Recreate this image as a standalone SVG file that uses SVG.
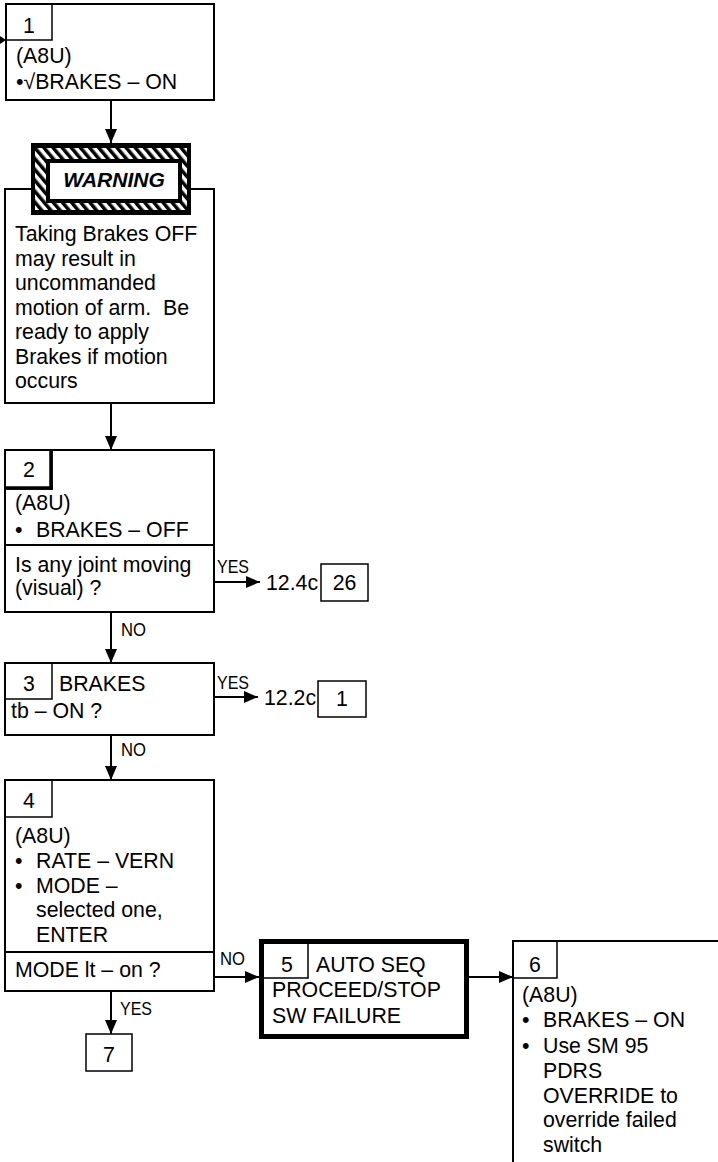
<svg xmlns="http://www.w3.org/2000/svg" width="718" height="1162" viewBox="0 0 718 1162">
<style>
  text { font-family: "Liberation Sans", Arial, sans-serif; font-size: 21.3px; fill: #000; }
  .lbl { font-size: 18px; }
  .ctr { text-anchor: middle; }
  .warn { font-weight: bold; font-style: italic; font-size: 21px; }
  .box { fill: #fff; stroke: #000; stroke-width: 2; }
  .tab { fill: none; stroke: #000; stroke-width: 1.5; }
  .thick { fill: #fff; stroke: #000; stroke-width: 5; }
  .conn { fill: none; stroke: #000; stroke-width: 2; }
  .ln { stroke: #000; stroke-width: 2; fill: none; }
</style>
<defs>
  <marker id="arr" markerUnits="userSpaceOnUse" markerWidth="14" markerHeight="12" refX="14" refY="6" orient="auto">
    <path d="M0,0 L14,6 L0,12 Z" fill="#000"/>
  </marker>
  <pattern id="hatch" patternUnits="userSpaceOnUse" width="7" height="7" patternTransform="rotate(-40)">
    <rect width="7" height="7" fill="#fff"/>
    <rect width="3.5" height="7" fill="#000"/>
  </pattern>
</defs>
<rect width="718" height="1162" fill="#fff"/>

<g id="connectors">
  <line class="conn" x1="0" y1="40" x2="2" y2="40"/>
  <path d="M0,36 L6,40 L0,44 Z" fill="#000"/>
  <line class="conn" x1="111" y1="100" x2="111" y2="143" marker-end="url(#arr)"/>
  <line class="conn" x1="111" y1="403" x2="111" y2="450" marker-end="url(#arr)"/>
  <line class="conn" x1="214" y1="582" x2="260" y2="582" marker-end="url(#arr)"/>
  <line class="conn" x1="111" y1="612" x2="111" y2="663" marker-end="url(#arr)"/>
  <line class="conn" x1="214" y1="697" x2="258" y2="697" marker-end="url(#arr)"/>
  <line class="conn" x1="111" y1="735" x2="111" y2="780" marker-end="url(#arr)"/>
  <line class="conn" x1="214" y1="977" x2="259" y2="977" marker-end="url(#arr)"/>
  <line class="conn" x1="111" y1="991" x2="111" y2="1034" marker-end="url(#arr)"/>
  <line class="conn" x1="469" y1="977" x2="513" y2="977" marker-end="url(#arr)"/>
  <text class="lbl" x="217" y="573" textLength="32" lengthAdjust="spacingAndGlyphs">YES</text>
  <text class="lbl" x="121" y="636" textLength="25" lengthAdjust="spacingAndGlyphs">NO</text>
  <text class="lbl" x="217" y="689" textLength="32" lengthAdjust="spacingAndGlyphs">YES</text>
  <text class="lbl" x="121" y="756" textLength="25" lengthAdjust="spacingAndGlyphs">NO</text>
  <text class="lbl" x="220" y="965" textLength="25" lengthAdjust="spacingAndGlyphs">NO</text>
  <text class="lbl" x="120" y="1015" textLength="32" lengthAdjust="spacingAndGlyphs">YES</text>
</g>

<g id="node1">
  <rect class="box" x="6" y="4" width="208" height="96"/>
  <rect class="tab" x="6" y="4" width="46" height="36"/>
  <text class="ctr" x="29" y="33">1</text>
  <text x="16" y="63">(A8U)</text>
  <text x="16" y="89">•√BRAKES – ON</text>
</g>

<g id="warning">
  <rect class="box" x="5" y="189" width="209" height="214"/>
  <rect x="31" y="143" width="160" height="72" fill="#000"/>
  <rect x="35" y="148" width="152" height="62" fill="url(#hatch)"/>
  <rect x="46" y="159" width="136" height="44" fill="#000"/>
  <rect x="50" y="163" width="128" height="36" fill="#fff"/>
  <text class="warn ctr" x="114" y="187">WARNING</text>
  <text x="15" y="241">Taking Brakes OFF</text>
  <text x="15" y="265.5">may result in</text>
  <text x="15" y="290">uncommanded</text>
  <text x="15" y="314.5" xml:space="preserve">motion of arm.  Be</text>
  <text x="15" y="339">ready to apply</text>
  <text x="15" y="363.5">Brakes if motion</text>
  <text x="15" y="388">occurs</text>
</g>

<g id="node2">
  <rect class="box" x="5" y="450" width="209" height="162"/>
  <rect class="tab" x="5" y="450" width="47" height="39"/>
  <line x1="51" y1="450" x2="51" y2="490" stroke="#000" stroke-width="3.5"/>
  <line x1="5" y1="488" x2="52.75" y2="488" stroke="#000" stroke-width="3.5"/>
  <text class="ctr" x="29" y="477">2</text>
  <text x="15" y="510">(A8U)</text>
  <text x="15" y="537">•</text>
  <text x="36" y="537">BRAKES – OFF</text>
  <line class="ln" x1="5" y1="545" x2="214" y2="545"/>
  <text x="15" y="572">Is any joint moving</text>
  <text x="15" y="595">(visual) ?</text>
</g>

<g id="ref26">
  <text x="266" y="590">12.4c</text>
  <rect class="tab" x="321" y="564" width="47" height="37"/>
  <text class="ctr" x="344.5" y="590">26</text>
</g>

<g id="node3">
  <rect class="box" x="5" y="663" width="209" height="72"/>
  <rect class="tab" x="5" y="663" width="47" height="36"/>
  <text class="ctr" x="29" y="691">3</text>
  <text x="59" y="691">BRAKES</text>
  <text x="11" y="718">tb – ON ?</text>
</g>

<g id="ref1">
  <text x="264" y="705">12.2c</text>
  <rect class="tab" x="318" y="681" width="48" height="36"/>
  <text class="ctr" x="342" y="706">1</text>
</g>

<g id="node4">
  <rect class="box" x="5" y="780" width="209" height="211"/>
  <rect class="tab" x="5" y="780" width="47" height="37"/>
  <text class="ctr" x="29" y="808">4</text>
  <text x="15" y="843">(A8U)</text>
  <text x="15" y="868">•</text>
  <text x="36" y="868">RATE – VERN</text>
  <text x="15" y="893">•</text>
  <text x="36" y="893">MODE –</text>
  <text x="36" y="917">selected one,</text>
  <text x="36" y="942">ENTER</text>
  <line class="ln" x1="5" y1="952" x2="214" y2="952"/>
  <text x="15" y="977">MODE lt – on ?</text>
</g>

<g id="node7">
  <rect class="tab" x="86" y="1034" width="46" height="37"/>
  <text class="ctr" x="109" y="1062">7</text>
</g>

<g id="node5">
  <rect class="thick" x="261.5" y="941.5" width="205" height="95"/>
  <path class="tab" d="M308,944 V978 H264"/>
  <text class="ctr" x="287" y="972">5</text>
  <text x="316" y="972">AUTO SEQ</text>
  <text x="272" y="997">PROCEED/STOP</text>
  <text x="272" y="1023">SW FAILURE</text>
</g>

<g id="node6">
  <path class="ln" d="M513,1162 V941 H718"/>
  <rect class="tab" x="513" y="941" width="44" height="37"/>
  <text class="ctr" x="535" y="972">6</text>
  <text x="522" y="1002">(A8U)</text>
  <text x="522" y="1027">•</text>
  <text x="543" y="1027">BRAKES – ON</text>
  <text x="522" y="1053">•</text>
  <text x="543" y="1053">Use SM 95</text>
  <text x="543" y="1078">PDRS</text>
  <text x="543" y="1103">OVERRIDE to</text>
  <text x="543" y="1127">override failed</text>
  <text x="543" y="1152">switch</text>
</g>
</svg>
